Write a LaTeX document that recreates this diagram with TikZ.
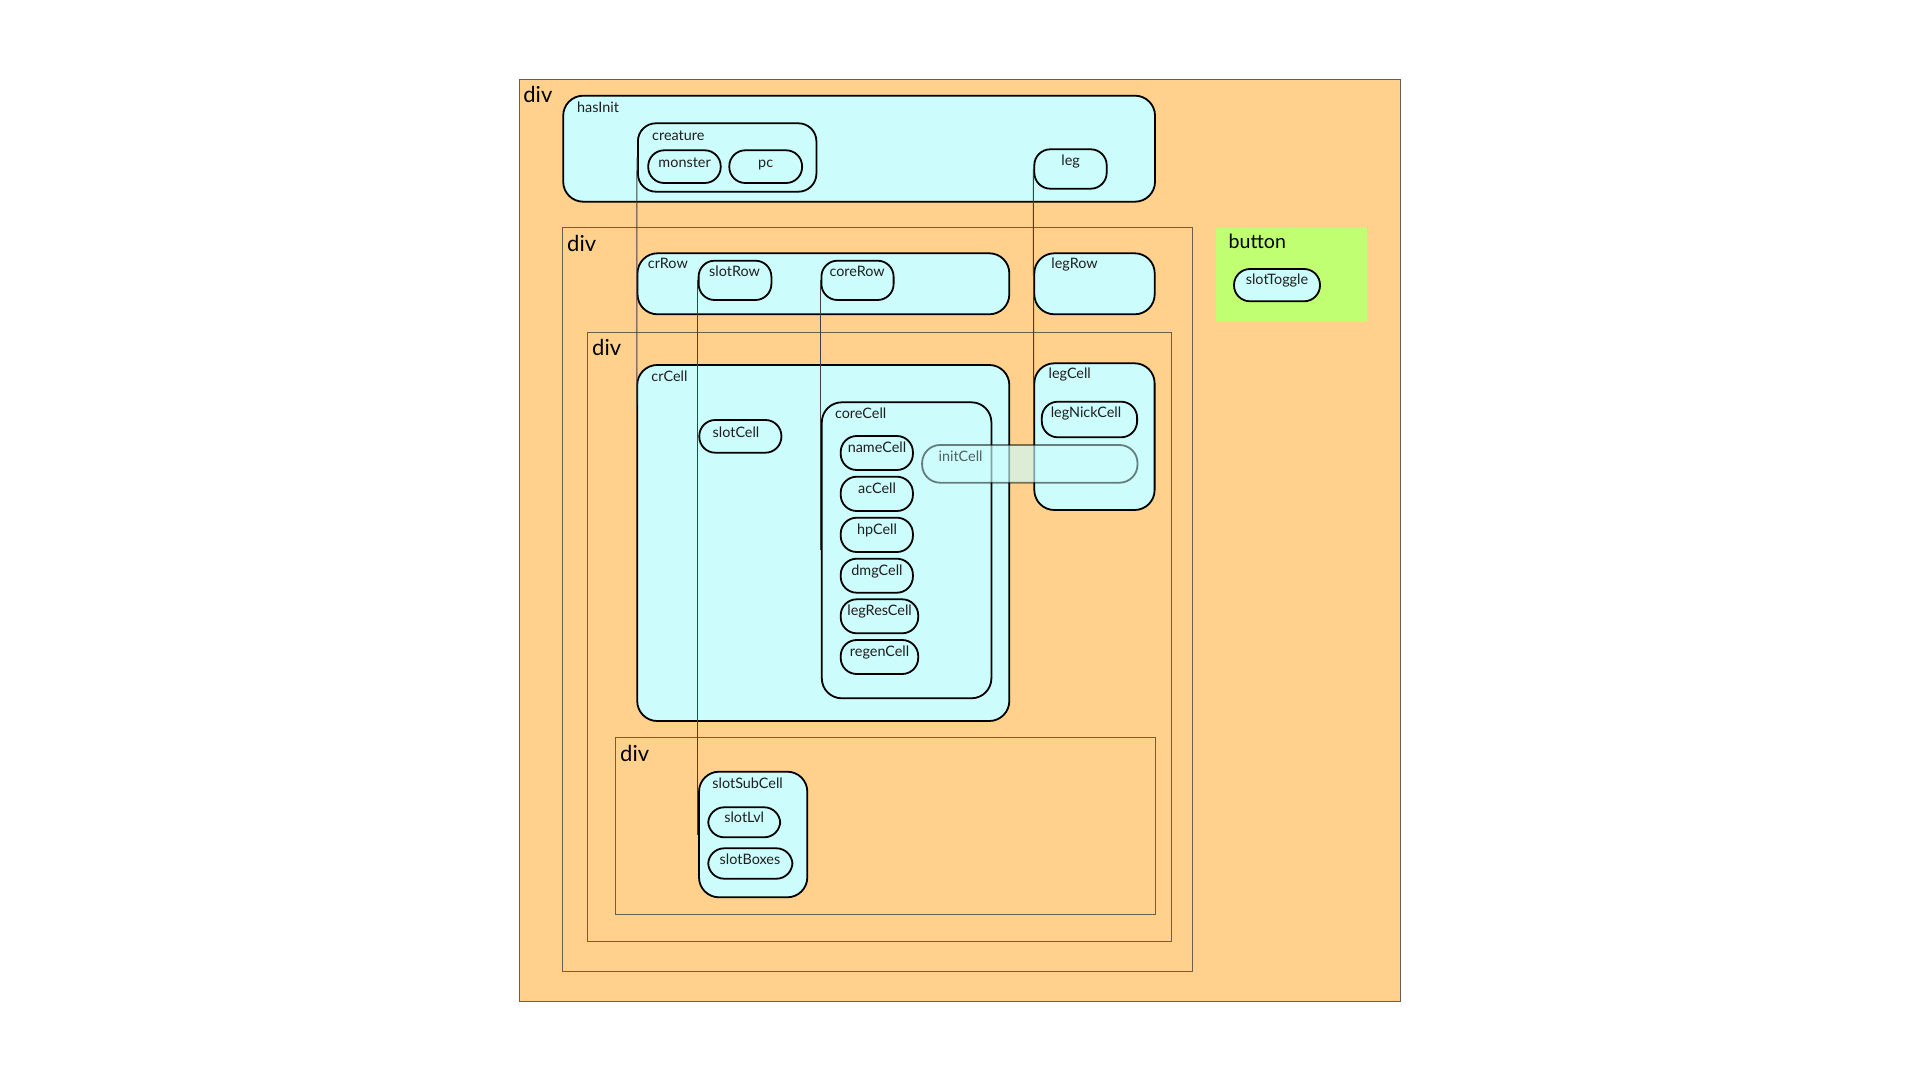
\documentclass[tikz,border=0pt]{standalone}
\usepackage{fontspec}
\setmainfont{Lato}
\usetikzlibrary{fit}
\definecolor{divfill}{HTML}{FFD18C}
\definecolor{cellfill}{HTML}{CCFCFC}
\definecolor{btnfill}{HTML}{C1FF72}
\definecolor{divline}{HTML}{6B5E4E}
\definecolor{txt}{HTML}{1E1E1E}
\tikzset{
 divbox/.style={draw=divline, line width=0.5pt, inner sep=0pt},
 outerdiv/.style={divbox, fill=divfill},
 bigcell/.style={draw=black, line width=0.9pt, fill=cellfill, rounded corners=10pt, inner sep=0pt},
 pill/.style={draw=black, line width=0.9pt, fill=cellfill, rounded corners=8pt, inner sep=0pt},
 ghost/.style={draw=black, draw opacity=0.5, line width=0.9pt, fill=cellfill, fill opacity=0.65, rounded corners=9pt, inner sep=0pt},
 btnbox/.style={fill=btnfill, inner sep=0pt},
 divlbl/.style={anchor=base west, font=\fontsize{11}{13}\selectfont, text=black, inner sep=0pt},
 btnlbl/.style={anchor=base west, font=\fontsize{9.8}{12}\selectfont, text=black, inner sep=0pt},
 lbl/.style={anchor=base west, font=\fontsize{7.2}{9}\selectfont, text=txt, inner sep=0pt},
 clbl/.style={anchor=base, font=\fontsize{7.2}{9}\selectfont, text=txt, inner sep=0pt},
 wire/.style={draw=black!75, line width=0.5pt},
}
\newcommand{\bx}[6]{\node[#6, fit={(#2,#3) (#4,#5)}] (#1) {};}
\begin{document}
\begin{tikzpicture}[x=0.5pt, y=-0.5pt]
\useasboundingbox (0,0) rectangle (1920,1080);
\fill[white] (0,0) rectangle (1920,1080);

% outer div
\bx{divA}{519.3}{79.3}{1400.8}{1001}{outerdiv}
\node[divlbl] (divAT) at (523,102.3) {div};

% hasInit block
\bx{hasInit}{563.2}{95.7}{1155}{201.7}{bigcell}
\node[lbl] (hasInitT) at (576.8,112.7) {hasInit};
\bx{creature}{637.9}{123.3}{816.4}{191.7}{bigcell, rounded corners=9pt}
\node[lbl] (creatureT) at (651.8,140.7) {creature};
\bx{monster}{648.2}{150.3}{720.7}{183}{pill}
\node[clbl] (monsterT) at (684.6,167.7) {monster};
\bx{pc}{729.3}{150.3}{802.1}{183}{pill}
\node[clbl] (pcT) at (765.7,167.7) {pc};
\bx{leg}{1034.3}{149.3}{1106.7}{188.7}{pill}
\node[clbl] (legT) at (1070.7,166) {leg};

% div 2
\bx{divB}{562.5}{228}{1192.3}{971.7}{divbox}
\node[divlbl] (divBT) at (566.8,251.7) {div};
\bx{crRow}{637.5}{253.3}{1009.3}{314.3}{bigcell}
\node[lbl] (crRowT) at (647.5,269) {crRow};
\bx{slotRow}{698.6}{260.7}{771.4}{300}{pill}
\node[clbl] (slotRowT) at (734.6,276.7) {slotRow};
\bx{coreRow}{821.4}{260.7}{893.6}{300}{pill}
\node[clbl] (coreRowT) at (857.1,276.7) {coreRow};
\bx{legRow}{1034.3}{253.3}{1154.7}{314.3}{bigcell}
\node[lbl] (legRowT) at (1051,268.7) {legRow};

% button
\bx{button}{1215.7}{227.7}{1367.3}{321.7}{btnbox}
\node[btnlbl] (buttonT) at (1228.3,248.3) {button};
\bx{slotToggle}{1234}{269}{1320}{301.3}{pill}
\node[clbl] (slotToggleT) at (1277,285) {slotToggle};

% div 3
\bx{divC}{587.5}{332.5}{1171.5}{941.3}{divbox}
\node[divlbl] (divCT) at (591.8,356) {div};
\bx{crCell}{637.2}{365}{1009.3}{721}{bigcell}
\node[lbl] (crCellT) at (651,381) {crCell};
\bx{slotCell}{699.3}{420}{781.4}{452.7}{pill}
\node[clbl] (slotCellT) at (736,437.3) {slotCell};
\bx{coreCell}{821.8}{402.3}{991.4}{698.3}{bigcell}
\node[lbl] (coreCellT) at (834.6,418.3) {coreCell};
\bx{nameCell}{840.7}{436}{912.9}{470}{pill}
\node[clbl] (nameCellT) at (877,452.3) {nameCell};
\bx{acCell}{840.7}{476.7}{912.9}{511}{pill}
\node[clbl] (acCellT) at (877,493.3) {acCell};
\bx{hpCell}{840.7}{517.7}{912.9}{552}{pill}
\node[clbl] (hpCellT) at (877,534.3) {hpCell};
\bx{dmgCell}{840.7}{558.7}{912.9}{592.7}{pill}
\node[clbl] (dmgCellT) at (877,575.3) {dmgCell};
\bx{legResCell}{840.7}{599.3}{918.2}{633.3}{pill}
\node[clbl] (legResCellT) at (879.6,615.7) {legResCell};
\bx{regenCell}{840.7}{640}{918.2}{674}{pill}
\node[clbl] (regenCellT) at (879.6,656.7) {regenCell};
\bx{legCell}{1034.3}{363.3}{1154.6}{510}{bigcell}
\node[lbl] (legCellT) at (1048.2,378.7) {legCell};
\bx{legNickCell}{1041.8}{401.7}{1137.1}{437.3}{pill}
\node[clbl] (legNickCellT) at (1086,417.7) {legNickCell};

% div 4
\bx{divD}{615.2}{737.3}{1155.2}{914.3}{divbox}
\node[divlbl] (divDT) at (619.8,761) {div};
\bx{slotSubCell}{699}{771.7}{807.3}{897.3}{bigcell}
\node[lbl] (slotSubCellT) at (712,788.3) {slotSubCell};
\bx{slotLvl}{708.2}{807.3}{780.2}{837.3}{pill}
\node[clbl] (slotLvlT) at (744.2,822.7) {slotLvl};
\bx{slotBoxes}{708.2}{848.3}{792.4}{878.7}{pill}
\node[clbl] (slotBoxesT) at (750,864) {slotBoxes};

% translucent initCell
\bx{initCell}{922.1}{445}{1137.5}{482.7}{ghost}
\node[lbl, text opacity=0.7] (initCellT) at (938.2,461.7) {initCell};

% connectors
\coordinate (crCellIn) at (636.8,405);
\coordinate (legCellIn) at (1033.6,426.7);
\draw[wire] (creature.west) -- (crCellIn);
\draw[wire] (slotRow.west) -- (slotRow.west |- slotSubCell.west);
\draw[wire] (coreRow.west) -- (coreRow.west |- coreCell.west);
\draw[wire] (leg.west) -- (legCellIn);
\end{tikzpicture}
\end{document}
